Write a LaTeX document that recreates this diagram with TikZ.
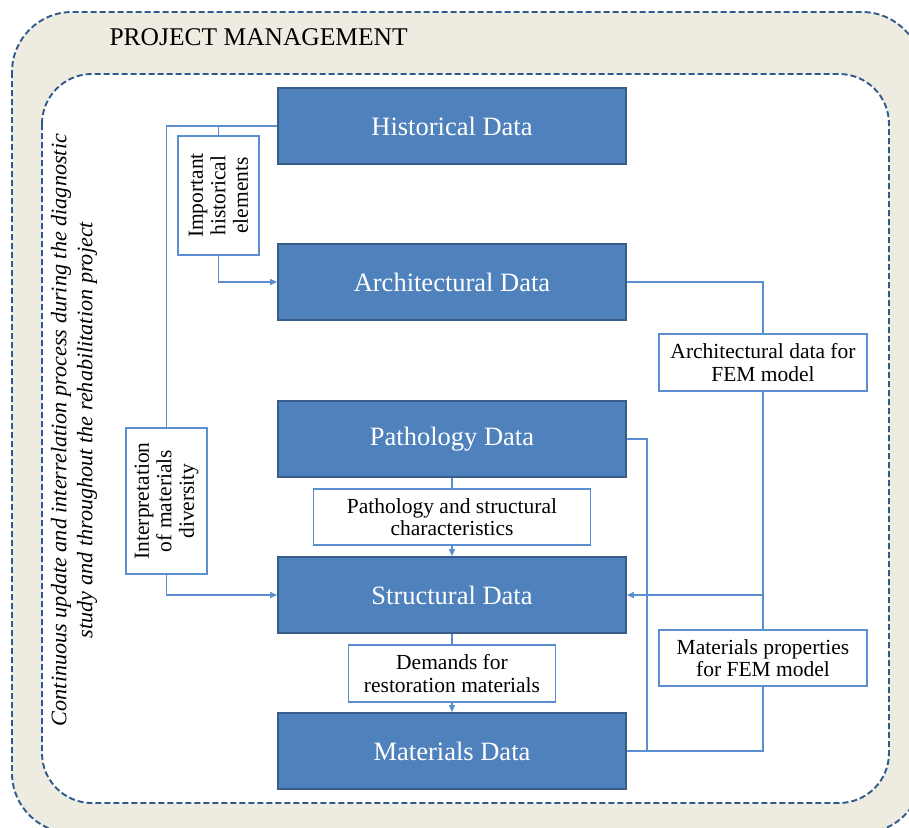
\documentclass[tikz,border=0pt]{standalone}
\usepackage{fontspec}
\setmainfont{Liberation Serif}
\usetikzlibrary{arrows.meta}
\definecolor{boxblue}{HTML}{4F81BD}
\definecolor{boxedge}{HTML}{385D8A}
\definecolor{connc}{HTML}{5B8ED0}
\definecolor{dashc}{HTML}{2F5A8C}
\definecolor{beige}{HTML}{EEECE1}
\tikzset{
  frame/.style={draw=dashc, line width=1.9pt, dash pattern=on 6pt off 3pt},
  databox/.style={draw=boxedge, line width=1.8pt, fill=boxblue, text=white,
    minimum width=348pt, minimum height=76pt, inner sep=0pt,
    font=\fontsize{26.5}{30}\selectfont},
  labbox/.style={draw=connc, line width=1.3pt, fill=white, align=center,
    inner sep=0pt, font=\fontsize{21.5}{22.5}\selectfont},
  conn/.style={draw=connc, line width=1.2pt},
  arr/.style={conn, -{Triangle[length=7pt,width=6pt]}}
}
\begin{document}
\begin{tikzpicture}[x=1pt,y=-1pt]
\useasboundingbox (0,0) rectangle (909,827);
\clip (0,0) rectangle (909,827);
% frames
\draw[frame, fill=beige, rounded corners=60pt] (12,12) rectangle (922,833);
\draw[frame, fill=white, rounded corners=50pt] (42,74) rectangle (889,803);
\node[anchor=base west, font=\fontsize{25.5}{30}\selectfont] (title) at (106,45) {PROJECT MANAGEMENT};
\node[rotate=90, align=center, font=\itshape\fontsize{22.2}{26}\selectfont] (vt) at (74,430)
  {Continuous update and interrelation process during the diagnostic\\study and throughout the rehabilitation project};
% data boxes
\node[databox] (hist) at (452,126) {Historical Data};
\node[databox] (arch) at (452,282) {Architectural Data};
\node[databox] (path) at (452,439) {Pathology Data};
\node[databox] (struct) at (452,595) {Structural Data};
\node[databox] (mat) at (452,751) {Materials Data};
% label boxes
\node[labbox, rotate=90, minimum width=119pt, minimum height=81pt] (imp) at (218.5,195.5) {Important\\historical\\elements};
\node[labbox, rotate=90, minimum width=146pt, minimum height=81pt] (interp) at (166.5,501) {Interpretation\\of materials\\diversity};
\node[labbox, minimum width=277pt, minimum height=56pt] (ps) at (452,517) {Pathology and structural\\characteristics};
\node[labbox, minimum width=207pt, minimum height=57pt] (dem) at (452,673.5) {Demands for\\restoration materials};
\node[labbox, minimum width=208pt, minimum height=57pt] (ad) at (763,362.5) {Architectural data for\\FEM model};
\node[labbox, minimum width=208pt, minimum height=56pt] (mp) at (763,658) {Materials properties\\for FEM model};
\coordinate (pj) at (647,439);
% connectors
\draw[conn] (hist.west) -| (interp.east);
\draw[conn] (imp.east |- hist.west) -- (imp.east);
\draw[arr] (imp.west) |- (arch.west);
\draw[arr] (interp.west) |- (struct.west);
\draw[conn] (path.south) -- (ps.north);
\draw[arr] (ps.south) -- (struct.north);
\draw[conn] (struct.south) -- (dem.north);
\draw[arr] (dem.south) -- (mat.north);
\draw[conn] (arch.east) -| (ad.north);
\draw[conn] (ad.south) -- (mp.north);
\draw[arr] (ad.south |- struct.east) -- (struct.east);
\draw[conn] (mp.south) |- (mat.east);
\draw[conn] (path.east) -- (pj) -- (pj |- mat.east);
\end{tikzpicture}
\end{document}
